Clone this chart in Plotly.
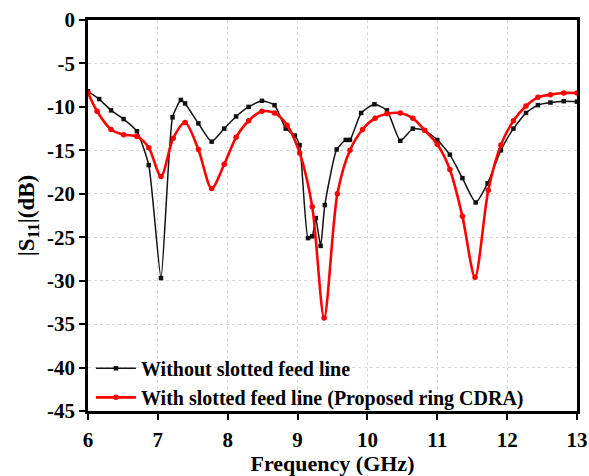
import plotly.graph_objects as go

# Frequency sweep (GHz) and |S11| (dB) for both antenna configurations
freq_plain = [6.00, 6.16, 6.33, 6.51, 6.70, 6.87, 7.045, 7.21, 7.33, 7.39, 7.58, 7.77, 7.95,
              8.12, 8.30, 8.49, 8.67, 8.83, 8.96, 9.03, 9.15, 9.21, 9.26, 9.33, 9.39,
              9.56, 9.69, 9.75, 9.91, 10.10, 10.28, 10.47, 10.65, 10.82, 11.00, 11.18,
              11.36, 11.55, 11.72, 11.91, 12.09, 12.27, 12.44, 12.62, 12.81, 13.00]
s11_plain = [-8.2, -9.1, -10.4, -11.4, -12.8, -16.7, -29.7, -11.2, -9.2, -9.6, -11.9, -14.0, -12.5,
             -11.1, -10.0, -9.3, -9.8, -12.5, -13.3, -14.4, -25.1, -24.9, -22.8, -26.0, -21.3,
             -14.9, -13.8, -13.8, -10.7, -9.7, -10.4, -13.9, -12.5, -12.7, -13.8, -15.5,
             -18.2, -21.0, -18.8, -15.0, -12.5, -10.7, -9.8, -9.5, -9.35, -9.4]

freq_slot = [6.00, 6.13, 6.33, 6.51, 6.70, 6.87, 7.045, 7.22, 7.39, 7.58, 7.77, 7.95, 8.12,
             8.30, 8.49, 8.67, 8.85, 9.03, 9.21, 9.38, 9.57, 9.75, 9.93, 10.11, 10.28,
             10.47, 10.65, 10.82, 11.00, 11.18, 11.36, 11.54, 11.73, 11.91, 12.09, 12.27,
             12.44, 12.62, 12.81, 13.00]
s11_slot = [-8.4, -10.5, -12.6, -13.2, -13.4, -14.7, -18.0, -13.6, -11.8, -14.9, -19.4, -16.6, -13.5,
            -11.6, -10.5, -10.7, -12.1, -15.3, -21.5, -34.3, -20.0, -15.0, -12.6, -11.3, -10.8,
            -10.7, -11.3, -12.7, -14.3, -17.2, -22.6, -29.6, -19.6, -14.4, -11.6, -9.9,
            -8.9, -8.6, -8.4, -8.4]

x_ticks = [6, 7, 8, 9, 10, 11, 12, 13]
y_ticks = [0, -5, -10, -15, -20, -25, -30, -35, -40, -45]

serif = "Liberation Serif"

fig = go.Figure()
fig.add_trace(go.Scatter(
    x=freq_plain, y=s11_plain, mode="lines+markers",
    name="<b>Without slotted feed line</b>",
    line=dict(color="#111111", width=1.5, shape="spline", smoothing=0.5),
    marker=dict(symbol="square", size=4.5, color="#111111"),
))
fig.add_trace(go.Scatter(
    x=freq_slot, y=s11_slot, mode="lines+markers",
    name="<b>With slotted feed line (Proposed ring CDRA)</b>",
    line=dict(color="#ff0000", width=2.6, shape="spline", smoothing=0.8),
    marker=dict(symbol="circle", size=5.5, color="#ff0000"),
))

axis_common = dict(
    showline=True, linecolor="black", linewidth=2.5, mirror=True,
    ticks="outside", ticklen=6, tickwidth=2, tickcolor="black",
    showgrid=True, gridcolor="#d9d9d9", griddash="dot", gridwidth=1,
    zeroline=False, automargin=False,
    tickfont=dict(family=serif, size=21, color="black", weight=700),
)

fig.update_xaxes(
    range=[6, 13], tickvals=x_ticks, ticktext=[f"<b>{v}</b>" for v in x_ticks],
    ticklabelstandoff=2,
    title=dict(text="<b>Frequency (GHz)</b>", font=dict(family=serif, size=22, color="black"),
               standoff=4),
    **axis_common,
)
fig.update_yaxes(
    range=[-45, 0], tickvals=y_ticks, ticktext=[f"<b>{v}</b>" for v in y_ticks],
    title=dict(text="<b>|S<sub>11</sub>|(dB)</b>", font=dict(family=serif, size=23, color="black"),
               standoff=6),
    **axis_common,
)

fig.update_layout(
    width=589, height=476,
    margin=dict(l=88, r=12, t=20, b=65),
    paper_bgcolor="white", plot_bgcolor="white",
    showlegend=True,
    legend=dict(
        x=0.006, y=-0.015, xanchor="left", yanchor="bottom",
        bgcolor="rgba(0,0,0,0)", borderwidth=0,
        font=dict(family=serif, size=20, color="black"),
        tracegroupgap=0, itemwidth=40,
    ),
)

fig.write_html("out.html")
